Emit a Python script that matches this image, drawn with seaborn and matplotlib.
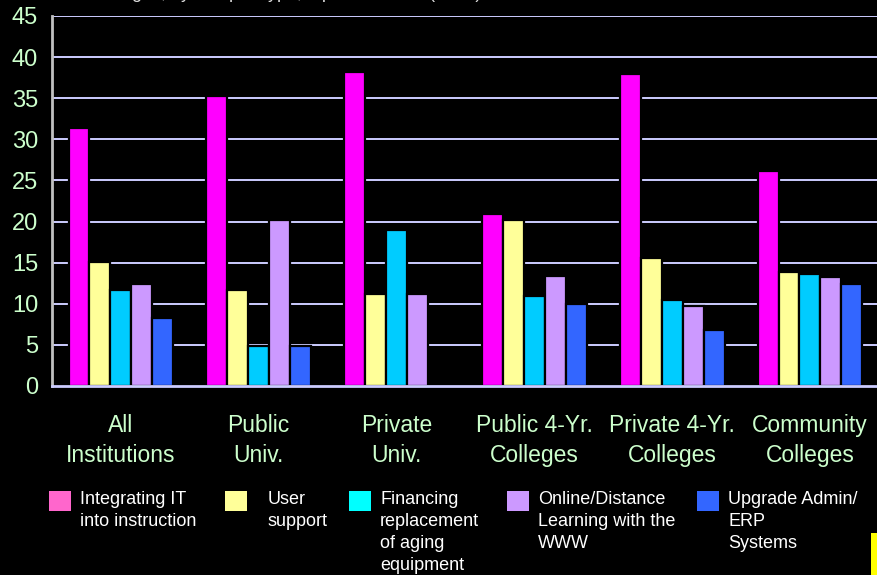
import numpy as np
import pandas as pd
import matplotlib
matplotlib.use("Agg")
import matplotlib.pyplot as plt
from matplotlib.patches import Rectangle
import seaborn as sns

# datos
categorias = ["All\nInstitutions", "Public\nUniv.", "Private\nUniv.",
              "Public 4-Yr.\nColleges", "Private 4-Yr.\nColleges", "Community\nColleges"]
series = ["Integrating IT\ninto instruction", "User\nsupport",
          "Financing\nreplacement\nof aging\nequipment",
          "Online/Distance\nLearning with the\nWWW", "Upgrade Admin/\nERP\nSystems"]
integrating_it = [31.4, 35.3, 38.2, 20.9, 38.0, 26.1]
user_support = [15.1, 11.7, 11.2, 20.2, 15.6, 13.9]
financing = [11.7, 4.9, 19.0, 11.0, 10.5, 13.6]
online = [12.4, 20.2, 11.2, 13.4, 9.7, 13.2]
upgrade_erp = [8.3, 4.9, 0.0, 10.0, 6.8, 12.4]
yticks = [0, 5, 10, 15, 20, 25, 30, 35, 40, 45]

bar_colors = ["#FF00FF", "#FFFF99", "#00CCFF", "#CC99FF", "#3366FF"]
legend_colors = ["#FF66CC", "#FFFF99", "#00FFFF", "#CC99FF", "#3366FF"]

valores = [integrating_it, user_support, financing, online, upgrade_erp]
filas = []
for s, vals in zip(series, valores):
    for c, v in zip(categorias, vals):
        filas.append({"categoria": c, "serie": s, "valor": v})
df = pd.DataFrame(filas)

sns.set_style("dark")
plt.rcParams["font.family"] = ["Liberation Sans", "DejaVu Sans"]

fig = plt.figure(figsize=(8.78, 5.75), dpi=100, facecolor="black")
ax = fig.add_axes([52 / 878, 1 - 386 / 575, 1 - 52 / 878 + 0.001, (386 - 16) / 575])
ax.set_facecolor("black")

# lineas de rejilla
for t in yticks[1:]:
    ax.axhline(t, color="#CCCCFF", lw=1.4, zorder=0)

sns.barplot(data=df, x="categoria", y="valor", hue="serie", order=categorias,
            hue_order=series, palette=bar_colors, width=0.76, gap=0,
            edgecolor="black", linewidth=1.6, saturation=1, ax=ax, legend=False,
            zorder=2)

ax.set_ylim(0, 45)
ax.set_xlim(-0.5, len(categorias) - 0.5)
ax.set_yticks(yticks)
ax.set_yticklabels([str(t) for t in yticks], color="#CCFFCC", fontsize=17)
ax.set_xticks(range(len(categorias)))
ax.set_xticklabels(categorias, color="#CCFFCC", fontsize=16.5, linespacing=1.4)
ax.set_xticks(np.arange(-0.5, len(categorias), 1), minor=True)
ax.tick_params(axis="x", which="major", length=0, pad=20)
ax.tick_params(axis="x", which="minor", length=5, width=1.4, color="#CCCCFF", direction="out")
ax.tick_params(axis="y", length=7, width=1.4, color="#C0C0C0", direction="out", pad=3)
ax.set_xlabel("")
ax.set_ylabel("")
ax.grid(False)

for lado in ["top", "right"]:
    ax.spines[lado].set_visible(False)
ax.spines["left"].set_color("#C0C0C0")
ax.spines["left"].set_linewidth(2)
ax.spines["bottom"].set_color("#CCCCFF")
ax.spines["bottom"].set_linewidth(2)

# leyenda: una por serie, alineada arriba
pos_x = [49, 225, 349, 507, 697]
pads = [0.5, 1.15, 0.5, 0.5, 0.5]
for s, c, x, p in zip(series, legend_colors, pos_x, pads):
    h = Rectangle((0, 0), 1, 1, facecolor=c, edgecolor="none")
    leg = fig.legend([h], [s], loc="upper left", bbox_to_anchor=(x / 878, 1 - 491 / 575),
                     frameon=False, fontsize=13, labelcolor="white",
                     handlelength=1.22, handleheight=1.33, handletextpad=p,
                     borderpad=0, borderaxespad=0)
    for txt in leg.get_texts():
        txt.set_linespacing(1.38)
    for col in leg._legend_handle_box.get_children():
        for item in col.get_children():
            item.align = "top"

# titulo cortado arriba
fig.text(0.068, 1.012, "Percentages, by campus type, top four issues (2001)",
         color="#DDDDDD", fontsize=13, ha="left", va="center")

# recuadro amarillo abajo a la derecha
fig.patches.append(Rectangle((871 / 878, 0), 7 / 878, 42 / 575, transform=fig.transFigure,
                             facecolor="#FFFF00", edgecolor="none"))

fig.savefig("out.png", dpi=100, facecolor="black")
